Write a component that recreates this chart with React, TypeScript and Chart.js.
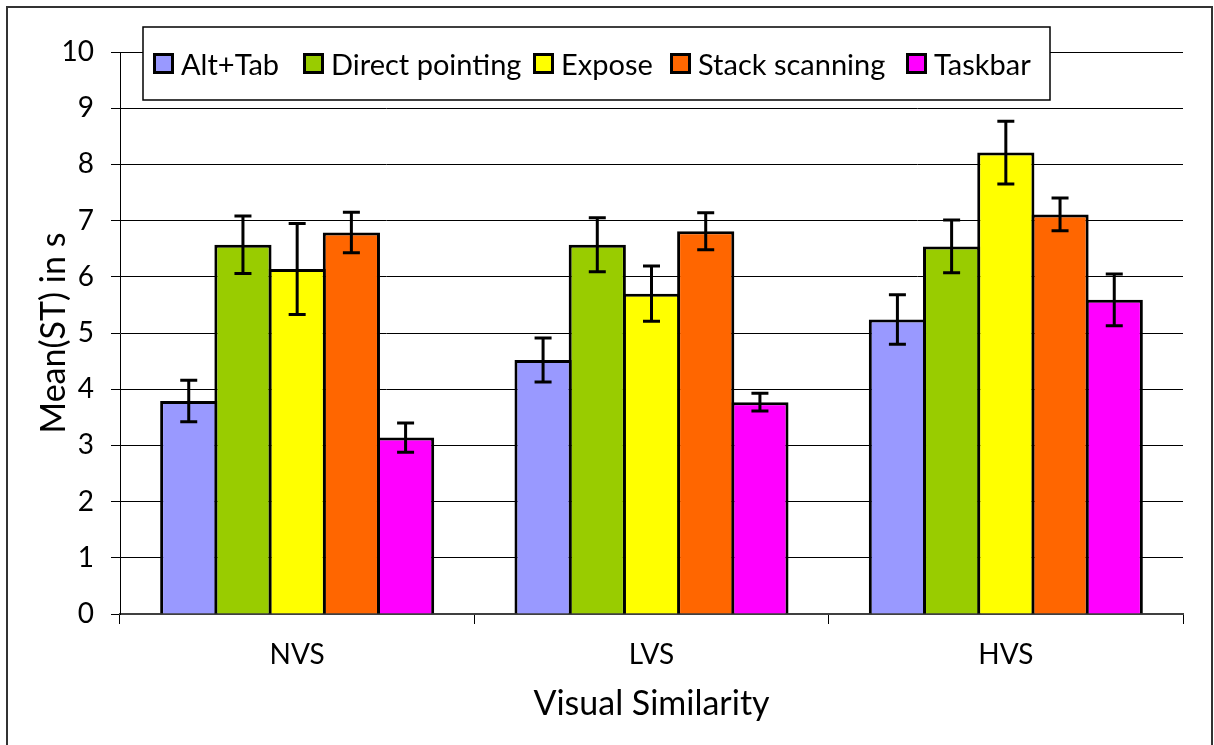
import React, { useEffect, useRef } from 'react';
import { Chart, registerables } from 'chart.js';

Chart.register(...registerables);

const categories = ['NVS', 'LVS', 'HVS'];
const seriesNames = ['Alt+Tab', 'Direct pointing', 'Expose', 'Stack scanning', 'Taskbar'];
const seriesColors = ['#9999FF', '#99CC00', '#FFFF00', '#FF6600', '#FF00FF'];

const altTab = [3.79, 4.52, 5.24];
const directPointing = [6.57, 6.57, 6.54];
const expose = [6.14, 5.7, 8.21];
const stackScanning = [6.79, 6.81, 7.11];
const taskbar = [3.14, 3.77, 5.59];

const altTabErr = [0.37, 0.39, 0.44];
const directPointingErr = [0.51, 0.48, 0.47];
const exposeErr = [0.81, 0.49, 0.56];
const stackScanningErr = [0.36, 0.33, 0.29];
const taskbarErr = [0.26, 0.16, 0.46];

const yMin = 0;
const yMax = 10;
const yStep = 1;

const xTitle = 'Visual Similarity';
const yTitle = 'Mean(ST) in s';

const seriesValues = [altTab, directPointing, expose, stackScanning, taskbar];
const seriesErrors = [altTabErr, directPointingErr, exposeErr, stackScanningErr, taskbarErr];

const FONT = 'Lato, "Open Sans", sans-serif';

// legend layout (swatch left edges in px)
const legendBox = { x: 143, y: 27, w: 907, h: 73 };
const legendSwatchX = [153, 303, 533, 670, 906];

const errorBarPlugin = {
  id: 'errorBars',
  afterDatasetsDraw(chart: any) {
    const ctx = chart.ctx;
    const yScale = chart.scales.y;
    ctx.save();
    ctx.strokeStyle = '#000';
    ctx.lineWidth = 3;
    ctx.lineCap = 'butt';
    chart.data.datasets.forEach((ds: any, i: number) => {
      const meta = chart.getDatasetMeta(i);
      const errs = seriesErrors[i];
      meta.data.forEach((bar: any, j: number) => {
        const v = ds.data[j];
        const e = errs[j];
        const x = bar.x;
        const yt = yScale.getPixelForValue(v + e);
        const yb = yScale.getPixelForValue(v - e);
        const hw = 8.5;
        ctx.beginPath();
        ctx.moveTo(x, yt);
        ctx.lineTo(x, yb);
        ctx.moveTo(x - hw, yt);
        ctx.lineTo(x + hw, yt);
        ctx.moveTo(x - hw, yb);
        ctx.lineTo(x + hw, yb);
        ctx.stroke();
      });
    });
    ctx.restore();
  },
};

const legendPlugin = {
  id: 'boxLegend',
  afterDraw(chart: any) {
    const ctx = chart.ctx;
    ctx.save();
    ctx.fillStyle = '#fff';
    ctx.fillRect(legendBox.x, legendBox.y, legendBox.w, legendBox.h);
    ctx.strokeStyle = '#000';
    ctx.lineWidth = 1.5;
    ctx.strokeRect(legendBox.x, legendBox.y, legendBox.w, legendBox.h);
    ctx.font = `29px ${FONT}`;
    ctx.textBaseline = 'alphabetic';
    ctx.textAlign = 'left';
    chart.data.datasets.forEach((ds: any, i: number) => {
      const sx = legendSwatchX[i];
      const size = 21;
      const sy = 53;
      ctx.fillStyle = '#000';
      ctx.fillRect(sx, sy, size, size);
      ctx.fillStyle = ds.backgroundColor;
      ctx.fillRect(sx + 3, sy + 3, size - 6, size - 6);
      ctx.fillStyle = '#000';
      ctx.fillText(ds.label, sx + 28, 74.5);
    });
    ctx.restore();
  },
};

export default function App() {
  const canvasRef = useRef<HTMLCanvasElement | null>(null);

  useEffect(() => {
    const canvas = canvasRef.current;
    if (!canvas) return;
    const chart = new Chart(canvas, {
      type: 'bar',
      data: {
        labels: categories,
        datasets: seriesNames.map((name, i) => ({
          label: name,
          data: seriesValues[i],
          backgroundColor: seriesColors[i],
          borderColor: '#000',
          borderWidth: 3,
          borderSkipped: 'start',
          categoryPercentage: 0.765,
          barPercentage: 1.055,
        })),
      },
      options: {
        responsive: false,
        animation: false,
        devicePixelRatio: 1,
        layout: { padding: { left: 0, top: 52, right: 31, bottom: 0 } },
        plugins: {
          legend: { display: false },
          tooltip: { enabled: false },
        },
        scales: {
          x: {
            type: 'category',
            grid: {
              offset: true,
              drawOnChartArea: false,
              drawTicks: true,
              tickLength: 10,
              color: '#000',
              lineWidth: 1,
            },
            border: { display: true, color: '#404040', width: 2 },
            ticks: {
              color: '#000',
              font: { family: FONT, size: 28 },
              padding: 14,
            },
            title: {
              display: true,
              text: xTitle,
              color: '#000',
              font: { family: FONT, size: 34 },
              padding: { top: 0, bottom: 21 },
            },
            afterFit: (s: any) => {
              s.height = 131;
            },
          },
          y: {
            min: yMin,
            max: yMax,
            ticks: {
              stepSize: yStep,
              color: '#000',
              font: { family: FONT, size: 28 },
              padding: 17,
            },
            grid: {
              color: '#000',
              lineWidth: 1,
              tickLength: 9,
            },
            border: { display: true, color: '#000', width: 1 },
            title: {
              display: true,
              text: yTitle,
              color: '#000',
              font: { family: FONT, size: 34 },
              padding: { top: 34, bottom: 0 },
            },
            afterFit: (s: any) => {
              s.width = 120;
            },
          },
        },
      },
      plugins: [errorBarPlugin, legendPlugin],
    } as any);
    return () => chart.destroy();
  }, []);

  return (
    <div style={{ position: 'fixed', left: 0, top: 0, width: 1214, height: 745, overflow: 'hidden', background: '#fff' }}>
      <canvas ref={canvasRef} width={1214} height={745} style={{ position: 'absolute', left: 0, top: 0 }} />
      <div
        style={{
          position: 'absolute',
          left: 6,
          top: 6,
          width: 1203,
          height: 800,
          border: '2px solid #333',
          pointerEvents: 'none',
        }}
      />
    </div>
  );
}
